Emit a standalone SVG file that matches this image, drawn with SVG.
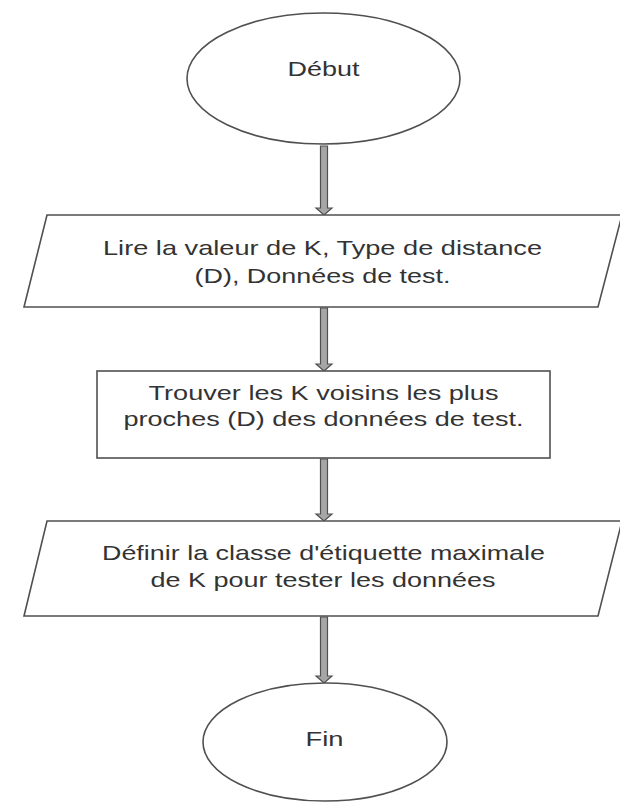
<svg xmlns="http://www.w3.org/2000/svg" width="620" height="805" viewBox="0 0 620 805">
<style>
.shape{fill:#ffffff;stroke:#505050;stroke-width:1.6}
.lbl{font-family:"Liberation Sans",Arial,sans-serif;font-size:21px;fill:#333333;text-anchor:middle}
.arrow{fill:#a6a6a6;stroke:#505050;stroke-width:1.2;stroke-linejoin:miter}
</style>
<rect x="0" y="0" width="620" height="805" fill="#ffffff"/>
<g id="connectors">
<polygon class="arrow" points="320.5,146 327.5,146 327.5,208 332,208 324,215 316,208 320.5,208"/>
<polygon class="arrow" points="320.5,308 327.5,308 327.5,364 332,364 324,371 316,364 320.5,364"/>
<polygon class="arrow" points="320.5,459 327.5,459 327.5,514 332,514 324,521 316,514 320.5,514"/>
<polygon class="arrow" points="320.5,617 327.5,617 327.5,676 332,676 324,683 316,676 320.5,676"/>
</g>
<g id="debut">
<ellipse class="shape" cx="323.5" cy="78.5" rx="136.5" ry="65.5"/>
<text class="lbl" x="323.5" y="76" textLength="72" lengthAdjust="spacingAndGlyphs">Début</text>
</g>
<g id="lire">
<polygon class="shape" points="47,215 622,215 598,307 24,307"/>
<text class="lbl" x="322.5" y="255" textLength="439" lengthAdjust="spacingAndGlyphs">Lire la valeur de K, Type de distance</text>
<text class="lbl" x="322.5" y="283" textLength="256" lengthAdjust="spacingAndGlyphs">(D), Données de test.</text>
</g>
<g id="trouver">
<rect class="shape" x="97" y="371" width="453" height="87"/>
<text class="lbl" x="323.5" y="400" textLength="350" lengthAdjust="spacingAndGlyphs">Trouver les K voisins les plus</text>
<text class="lbl" x="323.5" y="426" textLength="400" lengthAdjust="spacingAndGlyphs">proches (D) des données de test.</text>
</g>
<g id="definir">
<polygon class="shape" points="47,521 622,521 598,616 24,616"/>
<text class="lbl" x="323.5" y="560" textLength="443" lengthAdjust="spacingAndGlyphs">Définir la classe d'étiquette maximale</text>
<text class="lbl" x="323" y="587" textLength="345" lengthAdjust="spacingAndGlyphs">de K pour tester les données</text>
</g>
<g id="fin">
<ellipse class="shape" cx="325" cy="742" rx="122" ry="59"/>
<text class="lbl" x="324.5" y="746" textLength="38" lengthAdjust="spacingAndGlyphs">Fin</text>
</g>
</svg>
